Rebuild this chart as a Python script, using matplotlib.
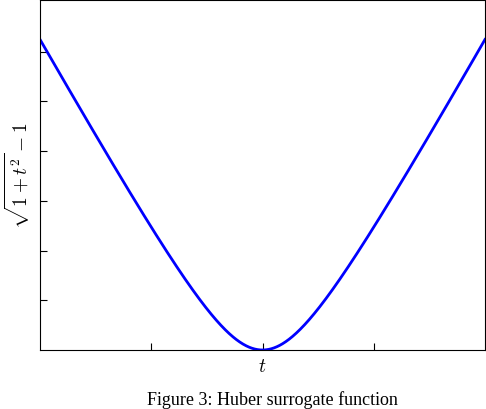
import numpy as np
import matplotlib
matplotlib.use("Agg")
import matplotlib.pyplot as plt

plt.rcParams['mathtext.fontset'] = 'cm'
t_min, t_max = -4.0, 4.0
y_max = 3.52
xticks = [-2, 0, 2]
yticks = [0.5, 1.0, 1.5, 2.0, 2.5, 3.0]
t = np.linspace(t_min, t_max, 801)
y = np.sqrt(1 + t**2) - 1

fig = plt.figure(figsize=(4.86, 4.10), dpi=100)
ax = fig.add_axes([40/486, 1-351/410, 445/486, 350/410])
ax.plot(t, y, color='#0000ff', lw=2)
ax.set_xlim(t_min, t_max)
ax.set_ylim(0, y_max)
ax.set_xticks(xticks)
ax.set_yticks(yticks)
ax.tick_params(direction='in', length=5, labelleft=False, labelbottom=False, width=0.8)
ax.set_xlabel(r'$t$', fontsize=14, labelpad=4)
ax.set_ylabel(r'$\sqrt{1+t^2}-1$', fontsize=14, labelpad=6)
fig.text(0.56, 10/410, 'Figure 3: Huber surrogate function', ha='center', va='center',
         fontsize=13, family='Liberation Serif')
fig.savefig('out.png', dpi=100)
